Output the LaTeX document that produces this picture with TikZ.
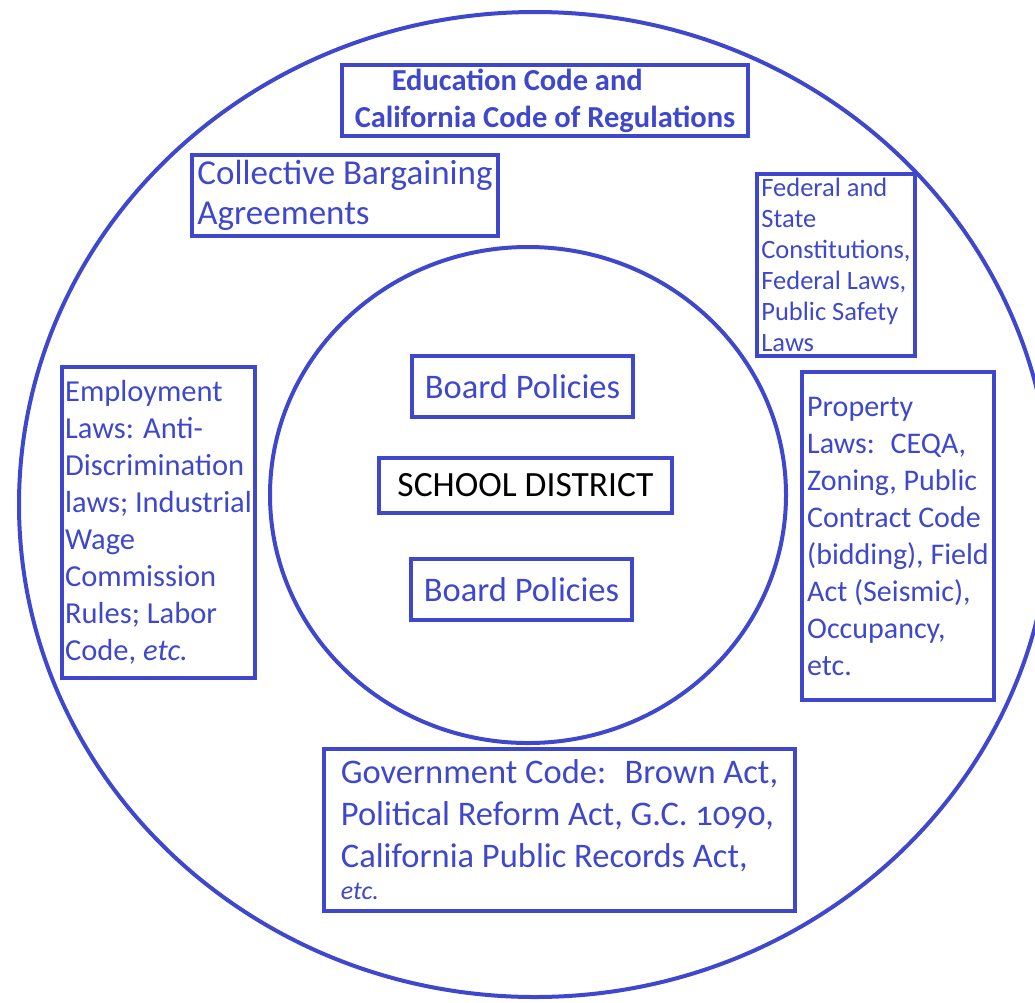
\documentclass[tikz,border=0pt]{standalone}
\usepackage{fontspec}
\setmainfont{Carlito}
\usetikzlibrary{shapes.geometric}
\definecolor{lawblue}{RGB}{63,72,204}

\begin{document}
\begin{tikzpicture}[x=1pt, y=-1pt, lawbox/.style={draw=lawblue, line width=4pt, text=lawblue, align=left, inner sep=0pt}, ring/.style={ellipse, draw=lawblue, line width=4pt, inner sep=0pt}]
	\useasboundingbox (0,0) rectangle (1035,1002);
	\node[ring, minimum width=1032pt, minimum height=985pt] (outer) at (535,504.5) {};
	\node[ring, minimum width=516pt, minimum height=496pt] (inner) at (528,495) {};
	\node[lawbox, font=\fontsize{30.5}{37}\selectfont\bfseries, minimum width=406pt, minimum height=71pt] (edu) at (545,100.5) {\hspace*{37pt}Education Code and\\California Code of Regulations};
	\node[lawbox, font=\fontsize{35}{40}\selectfont, minimum width=306pt, minimum height=81pt] (cba) at (345,195.5) {Collective Bargaining\\Agreements};
	\node[lawbox, font=\fontsize{26.5}{31}\selectfont, minimum width=158pt, minimum height=182pt] (fed) at (836,265) {Federal and\\State\\Constitutions,\\Federal Laws,\\Public Safety\\Laws};
	\node[lawbox, font=\fontsize{30.5}{37}\selectfont, minimum width=193pt, minimum height=311pt] (emp) at (158.5,522.5) {Employment\\Laws: Anti-\\Discrimination\\laws; Industrial\\Wage\\Commission\\Rules; Labor\\Code, \textit{etc.}};
	\node[lawbox, font=\fontsize{30}{37}\selectfont, minimum width=192pt, minimum height=328pt] (prop) at (898,536) {Property\\Laws:~ CEQA,\\Zoning, Public\\Contract Code\\(bidding), Field\\Act (Seismic),\\Occupancy,\\etc.};
	\node[lawbox, font=\fontsize{34.5}{42}\selectfont, minimum width=471pt, minimum height=162pt] (gov) at (559.5,830) {Government Code:~ Brown Act,\\Political Reform Act, G.C. {\addfontfeature{Numbers=OldStyle}1090},\\California Public Records Act,\\[-10pt]{\fontsize{26}{28}\selectfont\itshape etc.}};
	\node[lawbox, font=\fontsize{34.5}{36}\selectfont, minimum width=221pt, minimum height=61pt] (bp1) at (522.5,386.5) {Board Policies};
	\node[lawbox, font=\fontsize{35.5}{36}\selectfont, text=black, minimum width=293pt, minimum height=55pt] (sd) at (525.5,485.5) {SCHOOL DISTRICT};
	\node[lawbox, font=\fontsize{34.5}{36}\selectfont, minimum width=221pt, minimum height=61pt] (bp2) at (521.5,589.5) {Board Policies};
\end{tikzpicture}
\end{document}
